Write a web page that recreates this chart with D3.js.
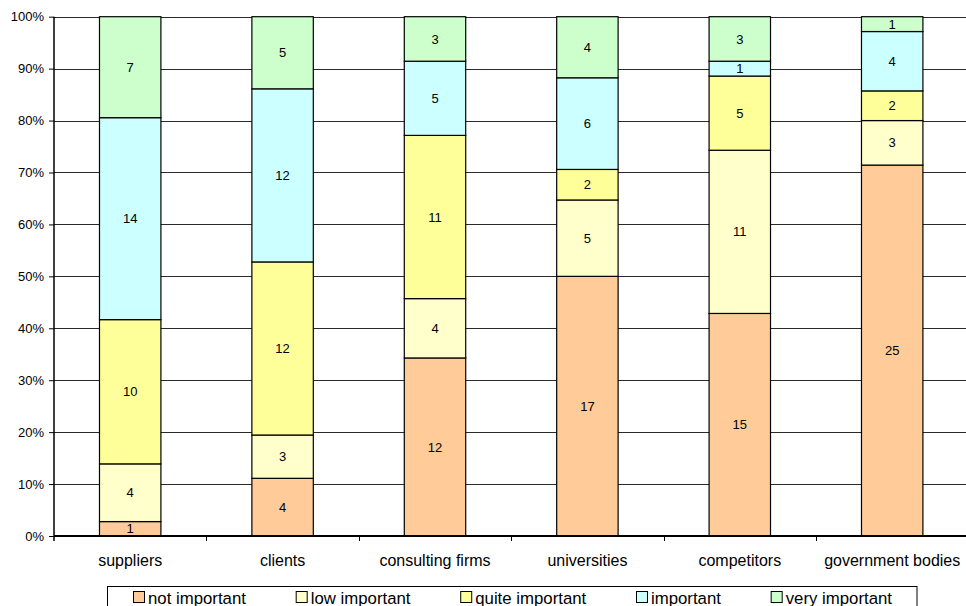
<!DOCTYPE html>
<html>
<head>
<meta charset="utf-8">
<script src="https://cdn.jsdelivr.net/npm/d3@7"></script>
<style>
  html, body { margin: 0; padding: 0; background: #fff; }
  svg { display: block; font-family: "Liberation Sans", Arial, sans-serif; }
</style>
</head>
<body>
<svg id="chart" width="966" height="606"></svg>
<script>
const categories = ["suppliers", "clients", "consulting firms", "universities", "competitors", "government bodies"];
const seriesNames = ["not important", "low important", "quite important", "important", "very important"];
const seriesColors = ["#FFCC99", "#FFFFCC", "#FFFF99", "#CCFFFF", "#CCFFCC"];
const notImportant   = [1, 4, 12, 17, 15, 25];
const lowImportant   = [4, 3, 4, 5, 11, 3];
const quiteImportant = [10, 12, 11, 2, 5, 2];
const important      = [14, 12, 5, 6, 1, 4];
const veryImportant  = [7, 5, 3, 4, 3, 1];
const yTicks = [0, 0.1, 0.2, 0.3, 0.4, 0.5, 0.6, 0.7, 0.8, 0.9, 1.0];

const seriesValues = [notImportant, lowImportant, quiteImportant, important, veryImportant];

const table = categories.map((c, i) => {
  const row = { category: c };
  seriesNames.forEach((s, k) => row[s] = seriesValues[k][i]);
  return row;
});

const svg = d3.select("#chart");
const plot = { left: 54, top: 16.7, bottom: 536, right: 968.4 };

const x = d3.scaleBand().domain(categories).range([plot.left, plot.right]).paddingInner(0).paddingOuter(0);
const y = d3.scaleLinear().domain([0, 1]).range([plot.bottom, plot.top]);
const barW = x.bandwidth() * 0.403;

const stack = d3.stack().keys(seriesNames).offset(d3.stackOffsetExpand);
const stacked = stack(table);

// gridlines
svg.append("g").selectAll("line").data(yTicks.filter(t => t > 0)).join("line")
  .attr("x1", plot.left).attr("x2", 966)
  .attr("y1", d => Math.round(y(d)) + 0.5).attr("y2", d => Math.round(y(d)) + 0.5)
  .attr("stroke", "#2a2a2a").attr("stroke-width", 1);

// bars
const layers = svg.append("g").selectAll("g").data(stacked).join("g")
  .attr("fill", (d, k) => seriesColors[k]);
layers.selectAll("rect").data(d => d.map(v => ({ v, key: d.key }))).join("rect")
  .attr("x", d => x(d.v.data.category) + (x.bandwidth() - barW) / 2)
  .attr("width", barW)
  .attr("y", d => y(d.v[1]))
  .attr("height", d => y(d.v[0]) - y(d.v[1]))
  .attr("stroke", "#000").attr("stroke-width", 1.2);

// y axis
const yAxis = d3.axisLeft(y).tickValues(yTicks).tickFormat(d3.format(".0%")).tickSize(5).tickPadding(5);
const gy = svg.append("g").attr("transform", `translate(${plot.left},0)`).call(yAxis);
gy.select(".domain").attr("stroke", "#000").attr("stroke-width", 1.5).attr("d", `M0,${plot.top}V${plot.bottom + 5}`);
gy.selectAll(".tick line").attr("stroke", "#000");
gy.selectAll(".tick text").attr("font-size", 13).attr("fill", "#000").attr("font-family", "Liberation Sans, Arial, sans-serif");

// x axis
const gx = svg.append("g").attr("transform", `translate(0,${plot.bottom})`);
gx.append("line").attr("x1", plot.left).attr("x2", 966).attr("y1", 0).attr("y2", 0)
  .attr("stroke", "#000").attr("stroke-width", 2);
gx.selectAll("line.tk").data(categories.slice(1)).join("line").attr("class", "tk")
  .attr("x1", d => Math.round(x(d)) + 0.5).attr("x2", d => Math.round(x(d)) + 0.5)
  .attr("y1", 0).attr("y2", 5).attr("stroke", "#000");
gx.selectAll("text").data(categories).join("text")
  .attr("x", d => x(d) + x.bandwidth() / 2).attr("y", 29.7)
  .attr("text-anchor", "middle").attr("font-size", 16).attr("fill", "#000")
  .text(d => d);

// data labels
layers.selectAll("text").data(d => d.map(v => ({ v, key: d.key }))).join("text")
  .attr("x", d => x(d.v.data.category) + x.bandwidth() / 2)
  .attr("y", d => (y(d.v[0]) + y(d.v[1])) / 2)
  .attr("dy", "0.35em")
  .attr("text-anchor", "middle").attr("font-size", 13).attr("fill", "#000")
  .text(d => d.v.data[d.key]);

// legend
const lg = svg.append("g");
lg.append("rect").attr("x", 107.5).attr("y", 586.5).attr("width", 809.5).attr("height", 24)
  .attr("fill", "#fff").attr("stroke", "#000").attr("stroke-width", 1);
const items = lg.selectAll("g.item").data(seriesNames).join("g").attr("class", "item");
items.append("rect").attr("x", 0.5).attr("width", 11).attr("height", 11).attr("y", 591.5)
  .attr("fill", (d, k) => seriesColors[k]).attr("stroke", "#000").attr("stroke-width", 1);
const texts = items.append("text").attr("x", 15).attr("y", 603.5).attr("font-size", 16.8).attr("fill", "#000").text(d => d);
const widths = texts.nodes().map(n => n.getComputedTextLength() + 15);
const startX = 133, endX = 892;
const gap = (endX - startX - d3.sum(widths)) / (widths.length - 1);
let cx = startX;
items.each(function(d, i) {
  d3.select(this).attr("transform", `translate(${cx},0)`);
  cx += widths[i] + gap;
});
</script>
</body>
</html>
